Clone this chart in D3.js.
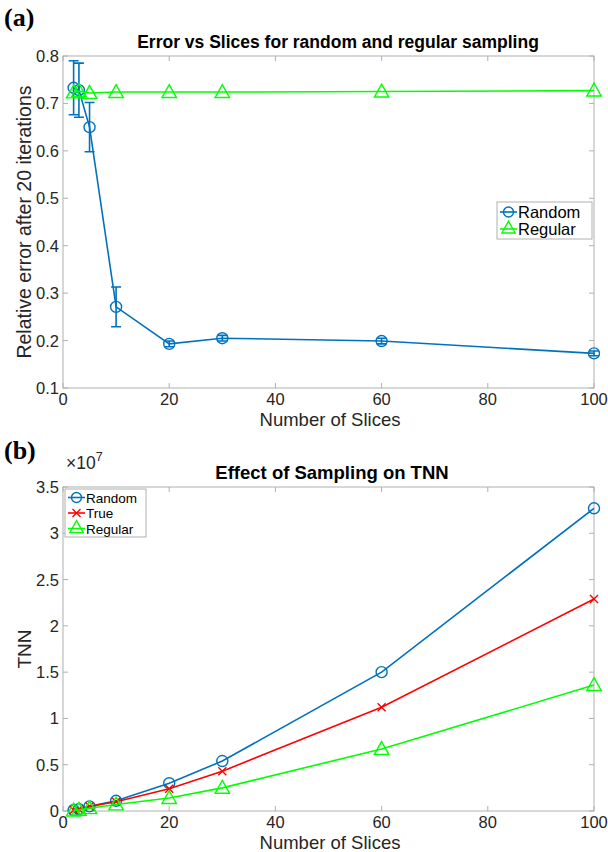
<!DOCTYPE html>
<html><head><meta charset="utf-8">
<script src="https://cdn.jsdelivr.net/npm/d3@7"></script>
<style>body{margin:0;background:#fff}svg{display:block}svg text{font-family:"Liberation Sans",Arial,sans-serif}svg text.lab{font-family:"Liberation Serif","Times New Roman",serif}</style>
</head><body>
<script>
const slices = [2,3,5,10,20,30,60,100];
const randomErr = [0.733,0.728,0.650,0.271,0.193,0.205,0.199,0.173];
const randomErrBar = [0.057,0.057,0.052,0.042,0.006,0.006,0.006,0.005];
const regularErr = [0.723,0.726,0.722,0.724,0.724,0.724,0.725,0.727];
const tnnRandom = [0.01,0.02,0.05,0.11,0.30,0.54,1.50,3.27];
const tnnTrue = [0.01,0.02,0.05,0.10,0.24,0.43,1.12,2.29];
const tnnRegular = [0.005,0.012,0.03,0.07,0.14,0.25,0.67,1.36];
const xTicks = [0,20,40,60,80,100];
const yTicksA = [0.1,0.2,0.3,0.4,0.5,0.6,0.7,0.8];
const yTicksB = [0,0.5,1,1.5,2,2.5,3,3.5];

const BLUE="#0072BD", GREEN="#00FF00", RED="#FF0000", AX="#b0b0b0", TXT="#262626";
const svg = d3.select("body").append("svg").attr("width",608).attr("height",852);

function panel(o){
  const x = d3.scaleLinear().domain([0,100]).range([63,594]);
  const y = d3.scaleLinear().domain(o.ydom).range([o.bottom,o.top]);
  const g = svg.append("g");
  g.append("rect").attr("x",63).attr("y",o.top).attr("width",594-63).attr("height",o.bottom-o.top)
    .attr("fill","none").attr("stroke",AX).attr("stroke-width",1);
  const tl=5;
  xTicks.forEach(t=>{
    g.append("line").attr("x1",x(t)).attr("x2",x(t)).attr("y1",o.bottom).attr("y2",o.bottom-tl).attr("stroke",AX);
    g.append("line").attr("x1",x(t)).attr("x2",x(t)).attr("y1",o.top).attr("y2",o.top+tl).attr("stroke",AX);
    g.append("text").attr("x",x(t)).attr("y",o.bottom+17).attr("text-anchor","middle")
      .attr("font-size",16.5).attr("fill",TXT).text(t);
  });
  o.yt.forEach(t=>{
    g.append("line").attr("x1",63).attr("x2",63+tl).attr("y1",y(t)).attr("y2",y(t)).attr("stroke",AX);
    g.append("line").attr("x1",594).attr("x2",594-tl).attr("y1",y(t)).attr("y2",y(t)).attr("stroke",AX);
    g.append("text").attr("x",59).attr("y",y(t)+6).attr("text-anchor","end")
      .attr("font-size",16.5).attr("fill",TXT).text(o.fmt(t));
  });
  g.append("text").attr("x",330).attr("y",o.bottom+38).attr("text-anchor","middle").attr("font-size",18.5).attr("fill",TXT).text("Number of Slices");
  g.append("text").attr("transform",`translate(${o.ylx},${(o.top+o.bottom)/2}) rotate(-90)`).attr("text-anchor","middle").attr("font-size",o.ylfs).attr("fill",TXT).text(o.ylabel);
  g.append("text").attr("x",o.tx).attr("y",o.top-8).attr("text-anchor","middle").attr("font-size",o.tfs).attr("font-weight","bold").attr("fill","#000").text(o.title);
  return {x,y,g};
}

function line(g,x,y,vals,color){
  g.append("path").datum(vals).attr("fill","none").attr("stroke",color).attr("stroke-width",1.6)
    .attr("d",d3.line().x((d,i)=>x(slices[i])).y(d=>y(d)));
}
function circles(g,x,y,vals,color,r){
  vals.forEach((v,i)=>g.append("circle").attr("cx",x(slices[i])).attr("cy",y(v)).attr("r",r).attr("fill","none").attr("stroke",color).attr("stroke-width",1.4));
}
function tri(g,cx,cy,color,s){
  g.append("path").attr("d",`M${cx},${cy-s*0.62}L${cx+s*0.6},${cy+s*0.45}L${cx-s*0.6},${cy+s*0.45}Z`).attr("fill","none").attr("stroke",color).attr("stroke-width",1.4);
}
function tris(g,x,y,vals,color,s){ vals.forEach((v,i)=>tri(g,x(slices[i]),y(v),color,s)); }
function crosses(g,x,y,vals,color,s){
  vals.forEach((v,i)=>{const cx=x(slices[i]),cy=y(v);
    g.append("path").attr("d",`M${cx-s},${cy-s}L${cx+s},${cy+s}M${cx-s},${cy+s}L${cx+s},${cy-s}`).attr("stroke",color).attr("stroke-width",1.4);});
}

svg.append("text").attr("class","lab").attr("x",4).attr("y",26).attr("font-weight","bold").attr("font-size",26).text("(a)");
svg.append("text").attr("class","lab").attr("x",4).attr("y",459).attr("font-weight","bold").attr("font-size",26).text("(b)");

// Panel A
const A = panel({top:56,bottom:388,ydom:[0.1,0.8],yt:yTicksA,fmt:d3.format(".1f"),ylabel:"Relative error after 20 iterations",ylx:31,ylfs:19.5,tx:338,tfs:17.5,title:"Error vs Slices for random and regular sampling"});
line(A.g,A.x,A.y,randomErr,BLUE);
randomErr.forEach((v,i)=>{
  const cx=A.x(slices[i]), y1=A.y(v+randomErrBar[i]), y2=A.y(v-randomErrBar[i]);
  A.g.append("path").attr("d",`M${cx},${y1}L${cx},${y2}M${cx-5},${y1}L${cx+5},${y1}M${cx-5},${y2}L${cx+5},${y2}`).attr("stroke",BLUE).attr("stroke-width",1.6).attr("fill","none");
});
circles(A.g,A.x,A.y,randomErr,BLUE,5.5);
line(A.g,A.x,A.y,regularErr,GREEN);
tris(A.g,A.x,A.y,regularErr,GREEN,12);
const la = A.g.append("g");
la.append("rect").attr("x",497).attr("y",202).attr("width",95).attr("height",37).attr("fill","#fff").attr("stroke",AX);
la.append("line").attr("x1",500).attr("x2",517).attr("y1",212).attr("y2",212).attr("stroke",BLUE).attr("stroke-width",1.6);
la.append("circle").attr("cx",508.5).attr("cy",212).attr("r",5).attr("fill","none").attr("stroke",BLUE).attr("stroke-width",1.4);
la.append("text").attr("x",518).attr("y",218).attr("font-size",16.5).attr("fill","#000").text("Random");
la.append("line").attr("x1",500).attr("x2",517).attr("y1",229).attr("y2",229).attr("stroke",GREEN).attr("stroke-width",1.6);
tri(la,508.5,228,GREEN,11);
la.append("text").attr("x",518).attr("y",235).attr("font-size",16.5).attr("fill","#000").text("Regular");

// Panel B
const B = panel({top:487,bottom:811,ydom:[0,3.5],yt:yTicksB,fmt:d=>String(d),ylabel:"TNN",ylx:31,ylfs:19,tx:332,tfs:18.5,title:"Effect of Sampling on TNN"});
const ex = B.g.append("text").attr("x",66).attr("y",469).attr("font-size",17.5).attr("fill",TXT);
ex.append("tspan").text("\u00d710");
ex.append("tspan").attr("dy",-8).attr("font-size",12.5).text("7");
line(B.g,B.x,B.y,tnnRandom,BLUE);
circles(B.g,B.x,B.y,tnnRandom,BLUE,5.5);
line(B.g,B.x,B.y,tnnTrue,RED);
crosses(B.g,B.x,B.y,tnnTrue,RED,4);
line(B.g,B.x,B.y,tnnRegular,GREEN);
tris(B.g,B.x,B.y,tnnRegular,GREEN,12);
const lb = B.g.append("g");
lb.append("rect").attr("x",65).attr("y",489).attr("width",81).attr("height",48).attr("fill","#fff").attr("stroke",AX);
const rows=[["Random",BLUE,"o"],["True",RED,"x"],["Regular",GREEN,"t"]];
rows.forEach((r,i)=>{const cy=497.5+i*15.5;
  lb.append("line").attr("x1",68).attr("x2",85).attr("y1",cy).attr("y2",cy).attr("stroke",r[1]).attr("stroke-width",1.6);
  if(r[2]==="o") lb.append("circle").attr("cx",76.5).attr("cy",cy).attr("r",5).attr("fill","none").attr("stroke",r[1]).attr("stroke-width",1.4);
  if(r[2]==="x") lb.append("path").attr("d",`M72.5,${cy-4}L80.5,${cy+4}M72.5,${cy+4}L80.5,${cy-4}`).attr("stroke",r[1]).attr("stroke-width",1.4);
  if(r[2]==="t") tri(lb,76.5,cy-1,r[1],11);
  lb.append("text").attr("x",86).attr("y",cy+5).attr("font-size",13.5).attr("fill","#000").text(r[0]);
});
</script>
</body></html>
